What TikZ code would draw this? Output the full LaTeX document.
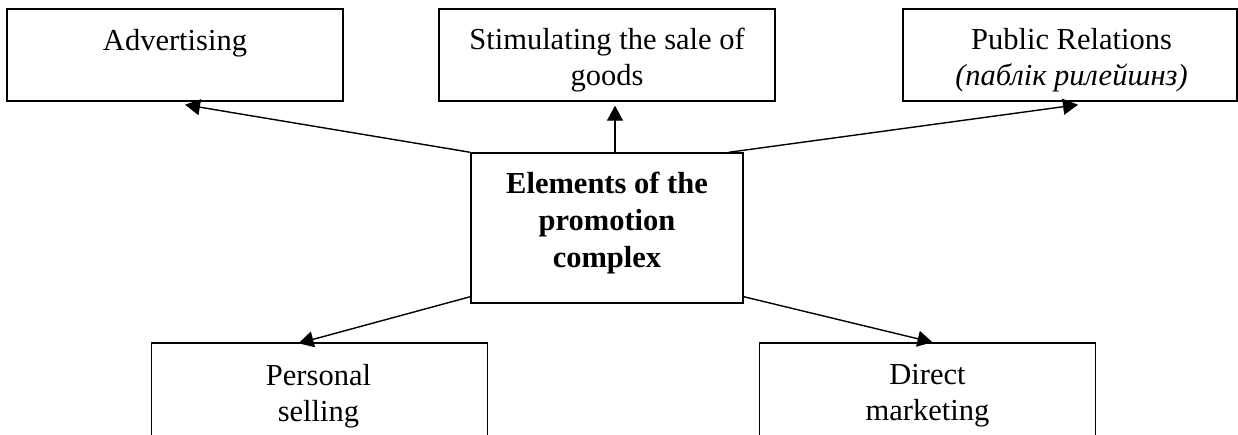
\documentclass[tikz,border=0pt]{standalone}
\usepackage{fontspec}
\setmainfont{Liberation Serif}
\usetikzlibrary{arrows.meta,calc}
\begin{document}
\begin{tikzpicture}[x=1pt,y=-1pt,
  box/.style={draw, line width=1.4pt, rectangle, inner sep=0pt, minimum width=336pt},
  topbox/.style={box, minimum height=92pt},
  lowbox/.style={box, minimum height=130pt},
  lbl/.style={anchor=north, inner sep=0pt, align=center,
              font=\fontsize{30.5}{36}\selectfont},
  link/.style={line width=1.4pt, -{Triangle[length=15pt,width=16pt]}}]
% page frame; the lower boxes run past its bottom edge
\clip (0,0) rectangle (1238,434);

% boxes
\node[topbox] (adv)  at (175,55) {};
\node[topbox] (stim) at (607,55) {};
\node[topbox, minimum width=334pt] (pr) at (1070,55) {};
\node[box, minimum width=272pt, minimum height=150pt] (cen) at (607,228) {};
\node[lowbox] (pers) at (319.5,408) {};
\node[lowbox] (dir)  at (927.5,408) {};

% box texts
\node[lbl] (advt)  at ($(adv.north)+(0,16.8)$)  {\strut Advertising};
\node[lbl] (stimt) at ($(stim.north)+(0,15.8)$) {\strut Stimulating the sale of\\goods};
\node[lbl] (prt)   at ($(pr.north)+(1.5,16)$)   {\strut Public Relations\\\textit{(паблік рилейшнз)}};
\node[lbl, font=\fontsize{30.5}{37}\selectfont\bfseries] (cent) at ($(cen.north)+(0,14.8)$)
  {\strut Elements of the\\promotion\\complex};
\node[lbl] (perst) at ($(pers.north)+(-1,17.8)$) {\strut Personal\\selling};
\node[lbl] (dirt)  at ($(dir.north)+(0,17)$)    {\strut Direct\\marketing};

% connectors
\draw[link] (cen.north west) -- ($(adv.south)+(10,3)$);
\draw[link] ($(cen.north)+(8,0)$) -- ($(stim.south)+(8,4)$);
\draw[link] ($(cen.north east)+(-15,0)$) -- ($(pr.south)+(8,3)$);
\draw[link] ($(cen.south west)+(0,-7)$) -- ($(pers.north)+(-21,1)$);
\draw[link] ($(cen.south east)+(0,-7)$) -- ($(dir.north)+(5,0)$);
\end{tikzpicture}
\end{document}
